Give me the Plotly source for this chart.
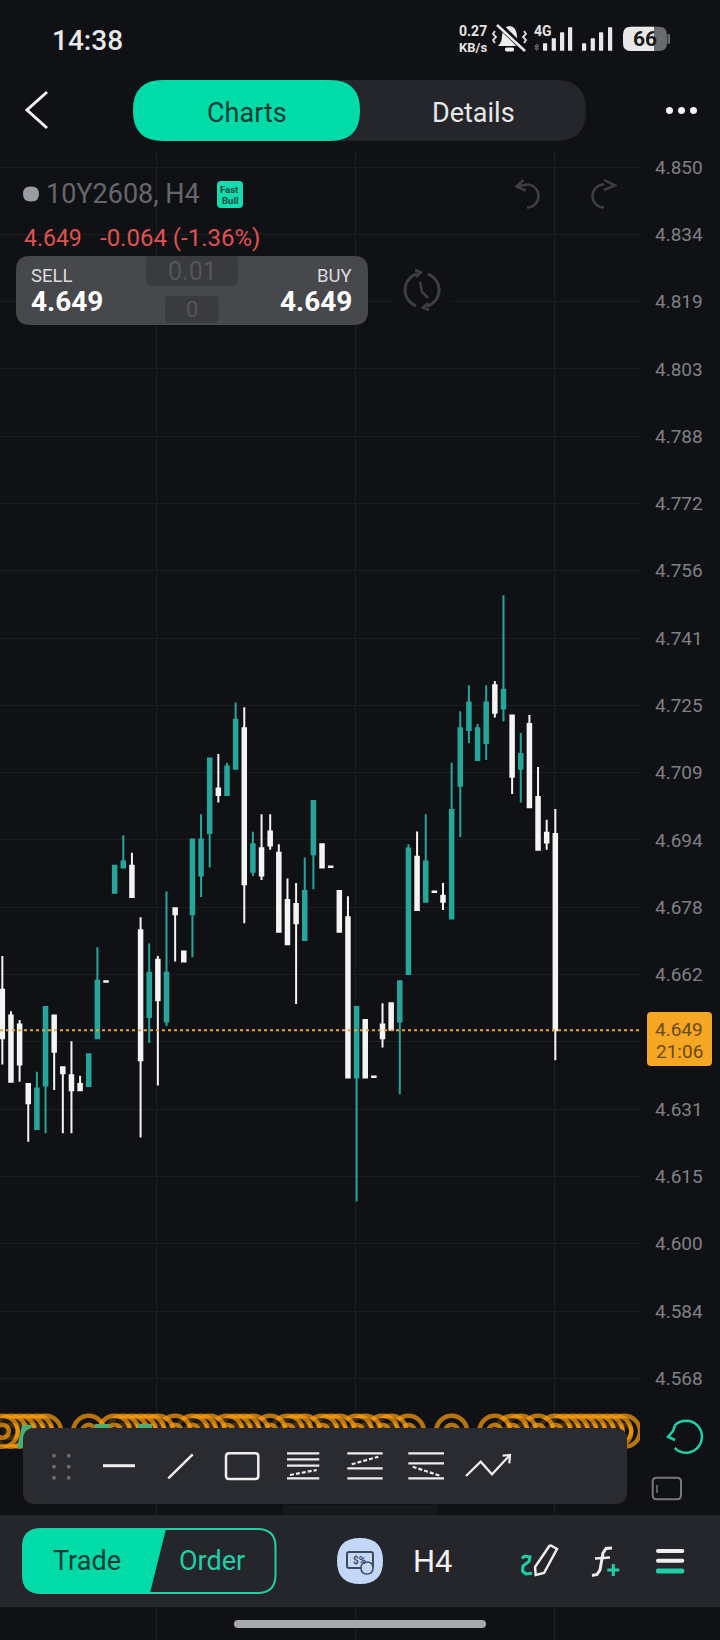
#!/usr/bin/env python3

import math
import plotly.graph_objects as go

W, H = 720, 1640

# candles (teal = up, white = down)
opens = [4.6584, 4.6524, 4.6503, 4.6365, 4.6260, 4.6361, 4.6524, 4.6404, 4.6385, 4.6365,
         4.6360, 4.6471, 4.6604, 4.6810, 4.6869, 4.6873, 4.6723, 4.6521, 4.6654, 4.6510,
         4.6774, 4.6673, 4.6760, 4.6850, 4.6949, 4.7053, 4.7038, 4.7099, 4.7193, 4.6859,
         4.6914, 4.6953, 4.6903, 4.6793, 4.6784, 4.6700, 4.6900, 4.6923, 4.6871, 4.6814,
         4.6753, 4.6380, 4.6514, 4.6382, 4.6503, 4.6553, 4.6510, 4.6621, 4.6894, 4.6789,
         4.6813, 4.6803, 4.6750, 4.7059, 4.7189, 4.7119, 4.7159, 4.7293, 4.7239, 4.7223,
         4.7099, 4.7203, 4.7033, 4.6950, 4.6947]
highs = [4.6663, 4.6534, 4.6514, 4.6365, 4.6393, 4.6544, 4.6524, 4.6404, 4.6464, 4.6384,
         4.6434, 4.6683, 4.6604, 4.6873, 4.6944, 4.6903, 4.6753, 4.6692, 4.6663, 4.6813,
         4.6774, 4.6673, 4.6934, 4.6993, 4.7123, 4.7133, 4.7113, 4.7253, 4.7242, 4.6952,
         4.6993, 4.6993, 4.6923, 4.6843, 4.6833, 4.6892, 4.7024, 4.6923, 4.6871, 4.6814,
         4.6802, 4.6544, 4.6514, 4.6382, 4.6553, 4.6553, 4.6604, 4.6923, 4.6953, 4.6993,
         4.6813, 4.6833, 4.7113, 4.7233, 4.7293, 4.7203, 4.7293, 4.7303, 4.7503, 4.7223,
         4.7182, 4.7224, 4.7103, 4.6980, 4.7005]
lows = [4.6410, 4.6370, 4.6370, 4.6230, 4.6260, 4.6250, 4.6351, 4.6250, 4.6250, 4.6350,
        4.6360, 4.6471, 4.6603, 4.6810, 4.6869, 4.6800, 4.6240, 4.6460, 4.6361, 4.6500,
        4.6650, 4.6650, 4.6660, 4.6800, 4.6869, 4.7020, 4.7038, 4.7099, 4.6739, 4.6849,
        4.6840, 4.6910, 4.6719, 4.6690, 4.6551, 4.6700, 4.6818, 4.6869, 4.6870, 4.6719,
        4.6380, 4.6091, 4.6380, 4.6381, 4.6450, 4.6491, 4.6341, 4.6621, 4.6770, 4.6789,
        4.6812, 4.6770, 4.6750, 4.6940, 4.7159, 4.7119, 4.7119, 4.7218, 4.7209, 4.7040,
        4.7020, 4.7009, 4.6910, 4.6910, 4.6420]
closes = [4.6471, 4.6370, 4.6410, 4.6320, 4.6354, 4.6544, 4.6440, 4.6390, 4.6350, 4.6350,
          4.6434, 4.6605, 4.6603, 4.6873, 4.6883, 4.6800, 4.6420, 4.6624, 4.6560, 4.6624,
          4.6760, 4.6650, 4.6934, 4.6934, 4.7123, 4.7038, 4.7104, 4.7213, 4.6830, 4.6923,
          4.6850, 4.6920, 4.6719, 4.6690, 4.6739, 4.6814, 4.7024, 4.6869, 4.6870, 4.6719,
          4.6380, 4.6544, 4.6380, 4.6381, 4.6471, 4.6491, 4.6604, 4.6913, 4.6770, 4.6883,
          4.6812, 4.6789, 4.7003, 4.7193, 4.7253, 4.7193, 4.7253, 4.7229, 4.7283, 4.7080,
          4.7133, 4.7009, 4.6910, 4.6927, 4.6490]

tick_values = [4.8500, 4.8343, 4.8187, 4.8030, 4.7873, 4.7717, 4.7560, 4.7403, 4.7246, 4.7090,
               4.6933, 4.6776, 4.6620, 4.6463, 4.6306, 4.6150, 4.5993, 4.5836, 4.5679]
tick_labels = ["4.850", "4.834", "4.819", "4.803", "4.788", "4.772", "4.756", "4.741", "4.725", "4.709",
               "4.694", "4.678", "4.662", "", "4.631", "4.615", "4.600", "4.584", "4.568"]
time_grid = [17.85, 40.85, 63.85]
last_price = 4.649

# trade markers along the bottom of the chart
marker_bars = [0, 1, 2, 3, 4, 5,
               10, 13, 14, 15, 16, 17, 18, 20, 22, 23, 24, 26, 27, 28,
               29, 31, 33, 34, 35, 37, 38, 39, 41, 42, 44, 45, 47,
               52,
               57, 59, 60, 62, 64, 65, 66, 67, 68, 69, 70, 71, 72]
marker_price = 4.5556

BG = "#101114"
PANEL = "#25262b"
TOOLBAR = "#2a2b30"
GREEN = "#00dba8"
TEAL = "#1fcfa6"
UP = "#26a69a"
DOWN = "#f4f4f4"
GRID = "#1c1d20"
ORANGE = "#ff9f0a"
FONT = "Roboto"


def pt(x, y):
    return f"{x / W:.5f},{1 - y / H:.5f}"


def path_shape(path, color=None, width=0, fill=None, dash=None):
    line = dict(color=color or "rgba(0,0,0,0)", width=width)
    if dash:
        line["dash"] = dash
    return dict(type="path", xref="paper", yref="paper", path=path, line=line,
                fillcolor=fill or "rgba(0,0,0,0)", layer="above")


def poly(points, color, width=2.5, dash=None):
    d = "M" + " L".join(pt(x, y) for x, y in points)
    return path_shape(d, color, width, dash=dash)


def box(x0, y0, x1, y1, r=0, fill=None, color=None, width=0):
    d = (f"M{pt(x0 + r, y0)} L{pt(x1 - r, y0)} Q{pt(x1, y0)} {pt(x1, y0 + r)} "
         f"L{pt(x1, y1 - r)} Q{pt(x1, y1)} {pt(x1 - r, y1)} L{pt(x0 + r, y1)} "
         f"Q{pt(x0, y1)} {pt(x0, y1 - r)} L{pt(x0, y0 + r)} Q{pt(x0, y0)} {pt(x0 + r, y0)} Z")
    return path_shape(d, color, width, fill)


def arc_points(cx, cy, r, a0, a1, n=24):
    return [(cx + r * math.cos(math.radians(a0 + (a1 - a0) * k / n)),
             cy + r * math.sin(math.radians(a0 + (a1 - a0) * k / n))) for k in range(n + 1)]


def label(x, y, s, size, color, anchor="center", weight=400, font=FONT):
    return dict(xref="paper", yref="paper", x=x / W, y=1 - y / H, text=s, showarrow=False,
                xanchor=anchor, yanchor="middle", borderpad=0,
                font=dict(family=font, size=size, color=color, weight=weight))


fig = go.Figure()

fig.add_trace(go.Candlestick(
    x=list(range(len(opens))),
    open=opens, high=highs, low=lows, close=closes,
    increasing=dict(line=dict(color=UP, width=2), fillcolor=UP),
    decreasing=dict(line=dict(color=DOWN, width=2), fillcolor=DOWN),
    whiskerwidth=0,
    showlegend=False,
    hoverinfo="skip",
))

# outer and inner ring per marker, drawn right to left so the left ones stay whole
ring_x = [b for b in reversed(marker_bars) for _ in (0, 1)]
fig.add_trace(go.Scatter(
    x=ring_x,
    y=[marker_price] * len(ring_x),
    mode="markers",
    marker=dict(size=[31, 13] * len(marker_bars), color=BG,
                line=dict(color=ORANGE, width=4.5)),
    showlegend=False,
    hoverinfo="skip",
))

shapes = []

# chart mask for the header, price line, price tag
shapes.append(box(0, 0, W, 150, fill=BG))
shapes.append(dict(type="line", xref="paper", yref="y", x0=0, x1=642 / W, y0=last_price, y1=last_price,
                   line=dict(color="#e8a33d", width=2, dash="3px 3px"), layer="above"))
shapes.append(box(647, 1012, 712, 1066, r=4, fill="#f5a623"))

# status bar
signal_x = [543, 551.7, 560, 568, 582, 590.7, 599, 608]
signal_top = [43.3, 38.3, 32.3, 27.3, 43.3, 38.3, 32.3, 27.3]
for bar_x, top in zip(signal_x, signal_top):
    shapes.append(box(bar_x, top, bar_x + 4.2, 50.7, r=0.5, fill="#e8e8e8"))
shapes.append(poly([(536.7, 44), (535, 46.5), (538.4, 46.5), (536.7, 44)], "#77787c", 1))
shapes.append(poly([(536.7, 50.5), (535, 48), (538.4, 48), (536.7, 50.5)], "#77787c", 1))
shapes.append(box(623, 26.7, 667, 51, r=8, fill="#6a6b6e"))
shapes.append(path_shape(
    f"M{pt(631, 26.7)} L{pt(654, 26.7)} L{pt(654, 51)} L{pt(631, 51)} Q{pt(623, 51)} {pt(623, 43)} "
    f"L{pt(623, 35)} Q{pt(623, 26.7)} {pt(631, 26.7)} Z", fill="#e8e8e8"))
shapes.append(box(667.5, 34, 670, 44, r=1, fill="#6a6b6e"))
# muted bell
shapes.append(path_shape(
    f"M{pt(498, 46)} Q{pt(502, 42)} {pt(502, 36)} Q{pt(503, 26)} {pt(509.5, 26)} Q{pt(516, 26)} {pt(517, 36)} "
    f"Q{pt(517, 42)} {pt(521, 46)} Z", fill="#eeeeee"))
shapes.append(box(505, 47.5, 514, 51.5, r=1.5, fill="#eeeeee"))
shapes.append(poly([(497, 23), (525, 50)], BG, 6))
shapes.append(poly([(497, 25), (525, 51)], "#eeeeee", 2.5))
shapes.append(poly([(495, 31), (493, 34), (496, 37), (493, 40), (495, 43)], "#dddddd", 1.8))
shapes.append(poly([(524, 31), (526, 34), (523, 37), (526, 40), (524, 43)], "#dddddd", 1.8))

# header row
shapes.append(poly([(47, 92), (27, 110), (47, 128)], "#f2f2f2", 3))
shapes.append(box(133, 80, 586, 141, r=30, fill=PANEL))
shapes.append(box(133, 80, 360, 141, r=30, fill=GREEN))
for dot_x in (669.5, 681.5, 693.5):
    shapes.append(box(dot_x - 3.5, 107, dot_x + 3.5, 114, r=3.5, fill="#f2f2f2"))

# symbol row
shapes.append(box(23, 186.5, 39, 201.5, r=7.5, fill="#9a9ba3"))
shapes.append(box(217, 181, 243, 208, r=4, fill="#14dcae"))
shapes.append(poly(arc_points(527, 196, 11.5, -90, 90), "#3e3f43", 2.5))
shapes.append(poly([(523.4, 180), (516.5, 186.7), (525.7, 190.7)], "#3e3f43", 2.5))
shapes.append(poly([(516.5, 186.7), (527, 184.5)], "#3e3f43", 2.5))
shapes.append(poly(arc_points(604, 196, 11.5, 270, 90), "#3e3f43", 2.5))
shapes.append(poly([(604, 180), (615, 185.5), (604, 190)], "#3e3f43", 2.5))

# sell / buy panel
shapes.append(box(16, 256, 368, 325, r=14, fill="#47484c"))
shapes.append(box(146, 256, 238, 286, r=4, fill="#3a3b3f"))
shapes.append(box(165, 296, 218.5, 323, r=4, fill="#3a3b3f"))
shapes.append(box(392.5, 267, 452, 325, fill=BG))
shapes.append(poly(arc_points(422, 290, 17, 110, 255), "#3e3f43", 3))
shapes.append(poly(arc_points(422, 290, 17, -70, 75), "#3e3f43", 3))
shapes.append(poly([(415, 270), (421, 272.5), (416, 277)], "#3e3f43", 2.5))
shapes.append(poly([(429, 310), (423, 307.5), (428, 303)], "#3e3f43", 2.5))
shapes.append(poly([(420, 282), (422, 292), (428, 298)], "#3e3f43", 2.5))

# green remnant of the hidden order tags
shapes.append(path_shape(
    f"M{pt(22, 1425)} L{pt(33, 1425)} L{pt(24, 1440)} L{pt(23, 1448)} L{pt(17, 1448)} Z", fill="#4caf6f"))
shapes.append(box(95, 1424, 110, 1429, fill="#4caf6f"))
shapes.append(box(138, 1424, 152, 1429, fill="#4caf6f"))

# drawing toolbar
shapes.append(box(23, 1428, 627, 1504, r=12, fill=TOOLBAR))
shapes.append(box(283, 1505, 437, 1515, fill="#17181b"))
for dx in (54, 68.7):
    for dy in (1455.7, 1466.7, 1477.7):
        shapes.append(box(dx - 2, dy - 2, dx + 2, dy + 2, r=2, fill="#6a6b70"))
WHITE = "#eeeeee"
shapes.append(poly([(103, 1465.7), (135, 1465.7)], WHITE, 3))
shapes.append(poly([(168.3, 1478.3), (192.7, 1454.3)], WHITE, 2.5))
shapes.append(box(226, 1453.3, 258.3, 1479, r=3, color=WHITE, width=2.5))
for ly in (1453.3, 1459.3, 1465.7, 1478.3):
    shapes.append(poly([(287, ly), (319.3, ly)], WHITE, 2.2))
shapes.append(poly([(290, 1475), (316.7, 1470)], WHITE, 2.2, dash="4px 2px"))
for ly in (1453.3, 1468.3, 1478.3):
    shapes.append(poly([(347.3, ly), (382.7, ly)], WHITE, 2.2))
shapes.append(poly([(351.7, 1464.3), (378.3, 1456.7)], WHITE, 2.2, dash="4px 2px"))
for ly in (1453.3, 1463.3, 1478.3):
    shapes.append(poly([(408.3, ly), (444, ly)], WHITE, 2.2))
shapes.append(poly([(412.7, 1466.7), (440, 1475.7)], WHITE, 2.2, dash="4px 2px"))
shapes.append(poly([(466, 1476), (480.7, 1461.7), (492, 1474.3), (510, 1455)], WHITE, 2.2))
shapes.append(poly([(502.7, 1455.7), (510, 1455), (509.3, 1463.3)], WHITE, 2.2))

# side icons
shapes.append(poly(arc_points(686, 1436.7, 16, -135, 135), TEAL, 2.5))
shapes.append(poly([(675, 1425.5), (673, 1431), (668, 1436.7), (675, 1440)], TEAL, 2.5))
shapes.append(box(652.7, 1477.7, 681, 1499.3, r=4, color="#77787c", width=2))
shapes.append(poly([(657, 1485), (657, 1493)], "#77787c", 1.5))

# bottom bar
shapes.append(box(0, 1515, W, 1607, fill=PANEL))
shapes.append(box(23, 1529, 275.5, 1593, r=18, color=TEAL, width=2))
shapes.append(path_shape(
    f"M{pt(41, 1529)} L{pt(166, 1529)} L{pt(150, 1593)} L{pt(41, 1593)} Q{pt(23, 1593)} {pt(23, 1575)} "
    f"L{pt(23, 1547)} Q{pt(23, 1529)} {pt(41, 1529)} Z", fill=GREEN))
shapes.append(box(337, 1538, 383, 1584, r=23, fill="#c3d7fb"))
shapes.append(box(347, 1552, 373, 1568, r=2, color="#3f4a5e", width=2))
shapes.append(box(361, 1562, 373, 1574, r=6, fill="#c3d7fb", color="#3f4a5e", width=1.5))
shapes.append(poly([(550, 1545), (557, 1549), (544, 1573), (535.7, 1575), (535, 1567), (550, 1545)], WHITE, 2.5))
shapes.append(poly([(521.7, 1558.3), (525, 1556), (530, 1557), (529, 1561.5), (523, 1566), (522.5, 1571),
                    (526, 1574), (532, 1573.3)], TEAL, 3))
shapes.append(poly([(612, 1548), (606, 1548.5), (603, 1553), (600, 1570), (597, 1574.5), (592, 1575.5)], WHITE, 3))
shapes.append(poly([(595, 1558.5), (610, 1557.5)], WHITE, 2.5))
shapes.append(poly([(607.3, 1570), (619.3, 1570)], TEAL, 3))
shapes.append(poly([(613.3, 1564), (613.3, 1576)], TEAL, 3))
shapes.append(box(656, 1549, 684.3, 1553, r=2, fill=WHITE))
shapes.append(box(656, 1558.7, 684.3, 1562.7, r=2, fill=WHITE))
shapes.append(box(656, 1568.5, 684.3, 1573.5, r=2, fill=TEAL))
shapes.append(box(234, 1620, 486, 1628, r=4, fill="#a8a9ab"))

annotations = [
    label(51, 40, "14:38", 28, "#e8e8e8", "left", 500),
    label(458, 30.7, "0.27", 14, "#e4e4e4", "left", 700),
    label(458, 47.7, "KB/s", 13, "#e4e4e4", "left", 700),
    label(533, 31, "4G", 14, "#e4e4e4", "left", 700),
    label(645, 39, "66", 21, "#1a1a1a", "center", 700),
    label(247, 112.5, "Charts", 27, "#0c3b35", "center"),
    label(473, 112.5, "Details", 27, "#e8e8e8", "center"),
    label(44.5, 194, "10Y2608, H4", 27, "#66676b", "left"),
    label(230, 189, "Fast", 9.5, "#0c4a3d", "center", 700),
    label(230, 200, "Bull", 9.5, "#0c4a3d", "center", 700),
    label(23, 238, "4.649", 23, "#e0524f", "left"),
    label(99, 238, "-0.064 (-1.36%)", 24, "#e0524f", "left"),
    label(30, 276, "SELL", 18.5, "#dcdcdc", "left"),
    label(30, 302, "4.649", 28, "#ffffff", "left", 700),
    label(353, 276, "BUY", 18.5, "#dcdcdc", "right"),
    label(353, 302, "4.649", 28, "#ffffff", "right", 700),
    label(192, 271, "0.01", 25, "#55565a", "center"),
    label(192, 310, "0", 22, "#55565a", "center"),
    label(679, 1029, "4.649", 19, "#6b4a12", "center"),
    label(679, 1051, "21:06", 19, "#6b4a12", "center"),
    label(87, 1561, "Trade", 27, "#0c3b35", "center"),
    label(212, 1561, "Order", 27, TEAL, "center"),
    label(359, 1560, "$%", 10, "#3f4a5e", "center", 700),
    label(433, 1561, "H4", 31, "#f2f2f2", "center"),
]

fig.update_layout(
    width=W,
    height=H,
    margin=dict(l=0, r=0, t=0, b=0),
    paper_bgcolor=BG,
    plot_bgcolor=BG,
    boxgap=0.42,
    showlegend=False,
    shapes=shapes,
    annotations=annotations,
    xaxis=dict(
        domain=[0, 640 / W],
        range=[-0.27, 73.8],
        rangeslider=dict(visible=False),
        tickmode="array",
        tickvals=time_grid,
        showticklabels=False,
        showgrid=True,
        gridcolor=GRID,
        gridwidth=1,
        zeroline=False,
        showline=False,
        ticks="",
    ),
    yaxis=dict(
        domain=[0, 1],
        range=[4.5070, 4.8889],
        side="right",
        tickmode="array",
        tickvals=tick_values,
        ticktext=tick_labels,
        tickfont=dict(family=FONT, size=19, color="#7f8084"),
        ticklabelstandoff=14,
        showgrid=True,
        gridcolor=GRID,
        gridwidth=1,
        zeroline=False,
        showline=False,
        ticks="",
    ),
)

fig.write_html("out.html", config=dict(displayModeBar=False),
               post_script="document.body.style.margin='0';document.body.style.background='#101114';")
